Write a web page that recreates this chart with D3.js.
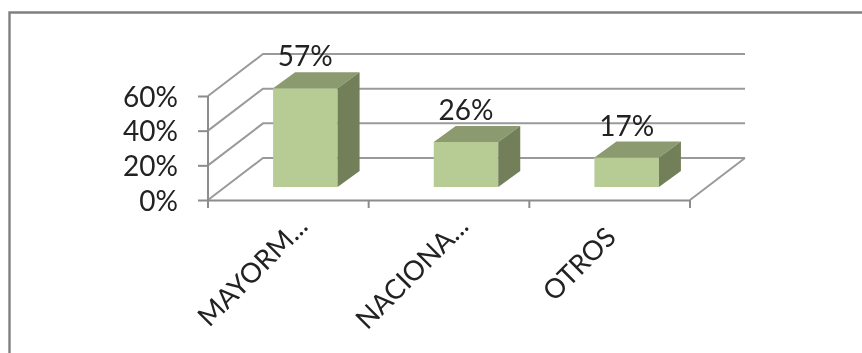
<!DOCTYPE html>
<html>
<head>
<meta charset="utf-8">
<script src="https://cdn.jsdelivr.net/npm/d3@7"></script>
<style>
html,body{margin:0;padding:0;background:#fff;overflow:hidden}
svg{display:block;filter:blur(0.55px)}
text{font-family:Lato,"Open Sans",sans-serif;fill:#222}
</style>
</head>
<body>
<div id="chart"></div>
<script>
const categories = ["MAYORM...", "NACIONA...", "OTROS"];
const values = [57, 26, 17];
const yTicks = [0, 20, 40, 60];

const width = 862, height = 353;
const svg = d3.select("#chart").append("svg").attr("width", width).attr("height", height);

const x = d3.scaleBand().domain(categories).range([208, 690]);
const y = d3.scaleLinear().domain([0, 60]).range([200, 96]);

const wall = {dx: 55, dy: -42};       // depth of the 3D box
const plane = {dx: 17, dy: -13};      // front plane of the bars
const depth = {dx: 22, dy: -16};      // depth of each bar
const barW = 64.5;

const axisColor = "#8c8c8c", gridColor = "#9a9a9a";

// Frame (runs past the right and bottom of the picture)
svg.append("path").attr("d", "M9.5,353V12.5H862")
  .attr("fill", "none").attr("stroke", "#808080").attr("stroke-width", 2.4);

// Gridlines on side wall and back wall
const gridG = svg.append("g").attr("fill", "none");
gridG.selectAll("path").data(yTicks).join("path")
  .attr("d", d => `M208,${y(d)}L${208 + wall.dx},${y(d) + wall.dy}H${690 + wall.dx}`)
  .attr("stroke", gridColor).attr("stroke-width", 2);

// Floor front-right edge
gridG.append("path")
  .attr("d", `M690,${y(0)}L${690 + wall.dx},${y(0) + wall.dy}`)
  .attr("stroke", gridColor).attr("stroke-width", 2);

// Axes
const yAxis = svg.append("g").attr("transform", "translate(208,0)")
  .call(d3.axisLeft(y).tickValues(yTicks).tickSize(10).tickFormat(d => d + "%"));
const xAxis = svg.append("g").attr("transform", `translate(0,${y(0)})`)
  .call(d3.axisBottom(x).tickValues([]).tickSize(0).tickSizeOuter(0));
xAxis.selectAll(".boundary").data(d3.range(categories.length + 1)).join("line")
  .attr("class", "boundary")
  .attr("x1", i => 208 + i * x.step()).attr("x2", i => 208 + i * x.step())
  .attr("y1", 0).attr("y2", 8);
[yAxis, xAxis].forEach(a => {
  a.selectAll("line,path").attr("stroke", axisColor).attr("stroke-width", 2);
  a.selectAll("path.domain").attr("fill", "none");
});
xAxis.selectAll("path.domain").attr("d", "M208,0.5H690");
yAxis.selectAll("path.domain").attr("d", `M0,${y(60)}V${y(0)}`);
yAxis.selectAll("text").attr("font-size", 28).attr("dy", "0.36em").attr("x", -30)
  .attr("fill", "#222").style("font-family", 'Lato,"Open Sans",sans-serif');

// Bars
const data = categories.map((c, i) => ({c, v: values[i]}));
const bars = svg.append("g").selectAll("g").data(data).join("g");
const barLeft = d => x(d.c) + x.bandwidth() / 2 + plane.dx - barW / 2;
const barRight = d => barLeft(d) + barW;
const barBottom = plane.dy + y(0);
const barTop = d => y(d.v) + plane.dy;

bars.append("path").attr("fill", "#b7cc95")
  .attr("d", d => `M${barLeft(d)},${barTop(d)}H${barRight(d)}V${barBottom}H${barLeft(d)}Z`);
bars.append("path").attr("fill", "#8c9a6f")
  .attr("d", d => `M${barLeft(d)},${barTop(d)}L${barLeft(d) + depth.dx},${barTop(d) + depth.dy}H${barRight(d) + depth.dx}L${barRight(d)},${barTop(d)}Z`);
bars.append("path").attr("fill", "#737f59")
  .attr("d", d => `M${barRight(d)},${barTop(d)}L${barRight(d) + depth.dx},${barTop(d) + depth.dy}V${barBottom + depth.dy}L${barRight(d)},${barBottom}Z`);

// Value labels
bars.append("text").attr("font-size", 28).attr("text-anchor", "middle")
  .attr("x", d => (barLeft(d) + barRight(d)) / 2)
  .attr("y", d => barTop(d) + depth.dy - 6)
  .text(d => d.v + "%");

// Category labels: the truncated ones sit further up and right than the whole word
const isCut = d => d.endsWith("...");
svg.append("g").selectAll("text").data(categories).join("text")
  .attr("font-size", d => isCut(d) ? 27.3 : 27)
  .attr("text-anchor", "end")
  .attr("transform", d => `translate(${x(d) + x.bandwidth() / 2 + (isCut(d) ? 21 : 8)},${isCut(d) ? 228 : 239}) rotate(-45)`)
  .text(d => d);
</script>
</body>
</html>
